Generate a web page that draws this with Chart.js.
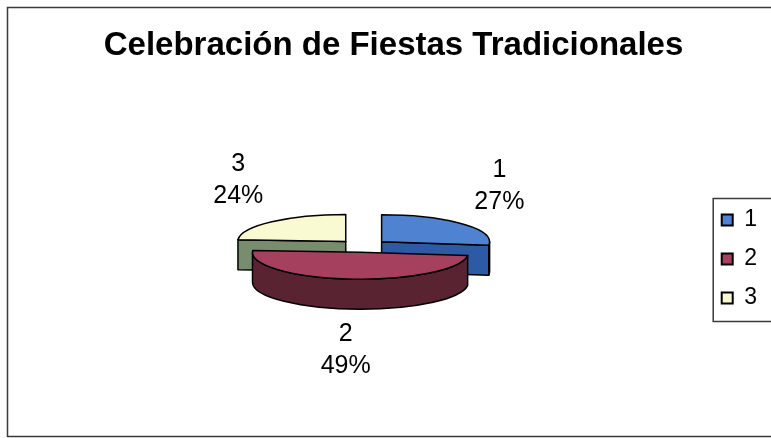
<!DOCTYPE html>
<html>
<head>
<meta charset="utf-8">
<script src="https://cdn.jsdelivr.net/npm/chart.js@4.4.1/dist/chart.umd.min.js"></script>
<style>
    html, body { margin: 0; padding: 0; background: #fff; }
</style>
</head>
<body>
<canvas id="pieChart" width="771" height="438"></canvas>
<script>
/* ── Data ───────────────────────────────────────────── */
const TITLE      = 'Celebración de Fiestas Tradicionales';
const labels     = ['1', '2', '3'];
const values     = [27, 49, 24];
const topColors  = ['#5082D2', '#A5415F', '#FAFAD2'];
const sideColors = ['#2D5AA5', '#5A2332', '#788C6E'];

/* ── 3D look ────────────────────────────────────────── */
const TILT    = 0.25;   // vertical squash of the pie
const DEPTH   = 30;     // thickness in px
const EXPLODE = 25;     // slice pull-out in px
const LBL_RX  = 182;
const LBL_RY  = 90;
const FONT    = 'Liberation Sans, Arial, sans-serif';

const pie3d = {
    id : 'pie3d',
    beforeDraw(chart) {
        const ctx = chart.ctx;
        ctx.save();
        ctx.fillStyle = '#fff';
        ctx.fillRect(0, 0, chart.width, chart.height);
        ctx.strokeStyle = '#3a3a3a';
        ctx.lineWidth = 1.5;
        ctx.strokeRect(7.5, 7.5, chart.width + 20, chart.height - 9);
        ctx.restore();
    },
    beforeDatasetsDraw(chart) {
        const ctx   = chart.ctx;
        const data  = chart.data.datasets[0].data;
        const total = data.reduce((a, b) => a + b, 0);
        const arcs  = chart.getDatasetMeta(0).data;

        const slices = arcs.map((a, i) => {
            const p   = a.getProps(['x', 'y', 'startAngle', 'endAngle', 'outerRadius'], true);
            const mid = (p.startAngle + p.endAngle) / 2;
            return {
                i, mid,
                x : p.x, y : p.y,
                s : p.startAngle, e : p.endAngle, r : p.outerRadius,
                cx : p.x + Math.cos(mid) * EXPLODE,
                cy : p.y + Math.sin(mid) * EXPLODE * TILT,
            };
        });

        const pt = (s, a, d) => [s.cx + Math.cos(a) * s.r, s.cy + Math.sin(a) * s.r * TILT + d];

        const wall = (s, a) => {
            const [x1, y1] = pt(s, a, 0);
            ctx.beginPath();
            ctx.moveTo(s.cx, s.cy);
            ctx.lineTo(x1, y1);
            ctx.lineTo(x1, y1 + DEPTH);
            ctx.lineTo(s.cx, s.cy + DEPTH);
            ctx.closePath();
            ctx.fill();
            ctx.stroke();
        };

        ctx.save();
        ctx.lineWidth   = 1.5;
        ctx.strokeStyle = '#000';
        ctx.lineJoin    = 'round';

        // back slices first
        [...slices].sort((a, b) => Math.sin(a.mid) - Math.sin(b.mid)).forEach(s => {
            ctx.fillStyle = sideColors[s.i];
            if (Math.cos(s.s) < -1e-6) wall(s, s.s);
            if (Math.cos(s.e) >  1e-6) wall(s, s.e);

            // front part of the rim
            const a0 = Math.max(s.s, 0);
            const a1 = Math.min(s.e, Math.PI);
            if (a1 > a0) {
                const [bx, by] = pt(s, a1, DEPTH);
                ctx.beginPath();
                ctx.ellipse(s.cx, s.cy, s.r, s.r * TILT, 0, a0, a1);
                ctx.lineTo(bx, by);
                ctx.ellipse(s.cx, s.cy + DEPTH, s.r, s.r * TILT, 0, a1, a0, true);
                ctx.closePath();
                ctx.fill();
                ctx.stroke();
            }

            // top face
            ctx.fillStyle = topColors[s.i];
            ctx.beginPath();
            ctx.moveTo(s.cx, s.cy);
            ctx.ellipse(s.cx, s.cy, s.r, s.r * TILT, 0, s.s, s.e);
            ctx.closePath();
            ctx.fill();
            ctx.stroke();
        });

        // data labels
        ctx.fillStyle    = '#000';
        ctx.font         = '25px ' + FONT;
        ctx.textAlign    = 'center';
        ctx.textBaseline = 'middle';
        slices.forEach(s => {
            const sn = Math.sin(s.mid);
            const lx = s.x + Math.cos(s.mid) * LBL_RX;
            const ly = s.y + sn * LBL_RY + (sn > 0 ? DEPTH / 2 : 0);
            ctx.fillText(chart.data.labels[s.i], lx, ly - 16);
            ctx.fillText(Math.round(data[s.i] / total * 100) + '%', lx, ly + 16);
        });
        ctx.restore();
        return false;
    },
    afterDraw(chart) {
        // frame around the legend
        const hb = chart.legend.legendHitBoxes;
        if (!hb || !hb.length) return;
        const first = hb[0], last = hb[hb.length - 1];
        const ctx = chart.ctx;
        ctx.save();
        ctx.strokeStyle = '#3a3a3a';
        ctx.lineWidth = 1.5;
        const top    = first.top - 10;
        const bottom = last.top + last.height + 12;
        ctx.strokeRect(first.left - 8.5, top, 120, bottom - top);
        ctx.restore();
    },
};

new Chart(document.getElementById('pieChart'), {
    type : 'pie',
    data : {
        labels   : labels,
        datasets : [{
            data            : values,
            backgroundColor : topColors,
            borderColor     : '#000',
            borderWidth     : 2,
            radius          : 108,
        }],
    },
    options : {
        responsive : false,
        animation  : false,
        events     : [],
        layout     : { padding: { left: 20, right: 4, top: 0, bottom: 18 } },
        plugins : {
            title : {
                display : true,
                text    : TITLE,
                color   : '#000',
                font    : { family: FONT, size: 33, weight: 'bold' },
                padding : { top: 26, bottom: 6.4 },
            },
            legend : {
                position : 'right',
                title    : {
                    display : true,
                    text    : ' ',
                    font    : { size: 12, lineHeight: 1.2 },
                    padding : { top: 0, bottom: 83.6 },
                },
                labels   : {
                    color     : '#000',
                    font      : { family: FONT, size: 23 },
                    boxWidth  : 11,
                    boxHeight : 11,
                    padding   : 16,
                },
            },
            tooltip : { enabled: false },
        },
    },
    plugins : [pie3d],
});
</script>
</body>
</html>
